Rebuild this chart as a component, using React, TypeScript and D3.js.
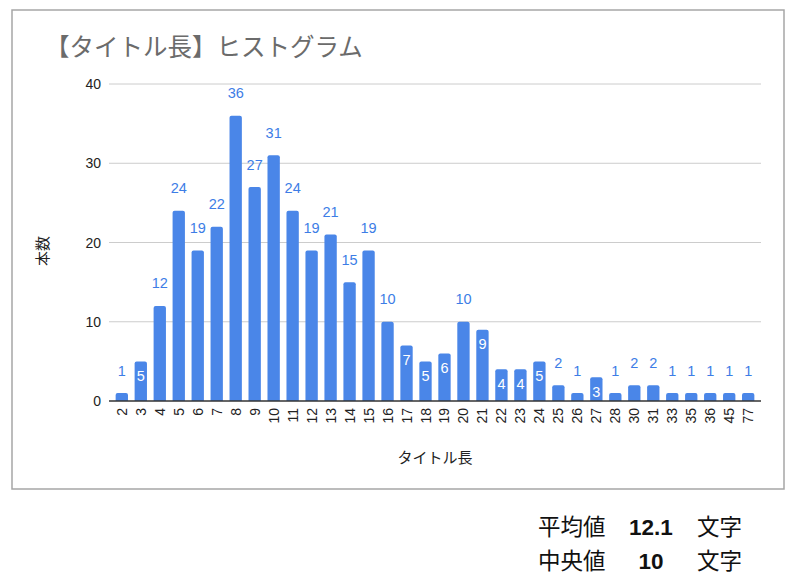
import React from "react";
import * as d3 from "d3";

const LENGTHS = ["2", "3", "4", "5", "6", "7", "8", "9", "10", "11", "12", "13", "14", "15", "16", "17", "18", "19", "20", "21", "22", "23", "24", "25", "26", "27", "28", "30", "31", "33", "35", "36", "45", "77"];
const COUNTS = [1, 5, 12, 24, 19, 22, 36, 27, 31, 24, 19, 21, 15, 19, 10, 7, 5, 6, 10, 9, 4, 4, 5, 2, 1, 3, 1, 2, 2, 1, 1, 1, 1, 1];
const Y_TICKS = [0, 10, 20, 30, 40];
const STATS = [
  { label: "平均値", value: "12.1", unit: "文字" },
  { label: "中央値", value: "10", unit: "文字" },
];

const W = 800;
const H = 588;
const BLUE = "#4a86e8";
const LABEL_BLUE = "#3d7de6";
const SANS = "Arial, 'Liberation Sans', Helvetica, sans-serif";
const JP = "'Noto Sans CJK JP', 'Noto Sans', sans-serif";

export default function App() {
  const x = d3.scaleBand<string>().domain(LENGTHS).range([109, 761]).padding(0.35);
  const y = d3.scaleLinear().domain([0, 40]).range([401, 84]);
  const bw = x.bandwidth();

  const rows = LENGTHS.map((k, i) => ({ k, v: COUNTS[i] }));

  // bar with rounded top corners only
  const barPath = (x0: number, top: number, w: number, bottom: number) => {
    const r = Math.min(2, (bottom - top) / 2);
    const p = d3.path();
    p.moveTo(x0, bottom);
    p.lineTo(x0, top + r);
    p.quadraticCurveTo(x0, top, x0 + r, top);
    p.lineTo(x0 + w - r, top);
    p.quadraticCurveTo(x0 + w, top, x0 + w, top + r);
    p.lineTo(x0 + w, bottom);
    p.closePath();
    return p.toString();
  };

  return (
    <svg width={W} height={H} style={{ position: "absolute", left: 0, top: 0, background: "#fff" }}>
      <rect x={12} y={10} width={772} height={479} fill="#fff" stroke="#a6a6a6" strokeWidth={1.5} />

      <text x={45} y={56} fontFamily={JP} fontSize={24.5} fill="#6b6b6b">【タイトル長】ヒストグラム</text>

      {/* grid + y ticks */}
      {Y_TICKS.map((t) => (
        <g key={t}>
          {t > 0 && <line x1={109} x2={761} y1={y(t)} y2={y(t)} stroke="#cccccc" strokeWidth={1} />}
          <text x={101} y={y(t) + 5} textAnchor="end" fontFamily={SANS} fontSize={14} fill="#222">{t}</text>
        </g>
      ))}

      {/* bars */}
      {rows.map((d) => {
        const x0 = x(d.k)!;
        const top = y(d.v);
        const cx = x0 + bw / 2;
        const inside = String(d.v).length === 1 && d.v >= 3;
        return (
          <g key={d.k}>
            <path d={barPath(x0, top, bw, y(0))} fill={BLUE} />
            <text
              x={cx}
              y={inside ? top + 19.5 : top - 17.5}
              textAnchor="middle"
              fontFamily={SANS}
              fontSize={14.5}
              fill={inside ? "#ffffff" : LABEL_BLUE}
            >
              {d.v}
            </text>
          </g>
        );
      })}

      <line x1={109} x2={761} y1={y(0)} y2={y(0)} stroke="#333" strokeWidth={1.5} />

      {/* x tick labels */}
      {LENGTHS.map((k) => (
        <text
          key={k}
          transform={`translate(${x(k)! + bw / 2 + 5},${408}) rotate(-90)`}
          textAnchor="end"
          fontFamily={SANS}
          fontSize={14}
          fill="#222"
        >
          {k}
        </text>
      ))}

      <text x={435} y={463} textAnchor="middle" fontFamily={JP} fontSize={15} fill="#222">タイトル長</text>
      <text transform={`translate(48,251) rotate(-90)`} textAnchor="middle" fontFamily={JP} fontSize={15} fill="#222">本数</text>

      {/* summary stats */}
      {STATS.map((s, i) => {
        const by = 535 + i * 33.5;
        return (
          <g key={s.label} fontSize={22.5} fill="#111">
            <text x={538} y={by} fontFamily={JP}>{s.label}</text>
            <text x={651} y={by} textAnchor="middle" fontFamily={SANS} fontWeight="bold">{s.value}</text>
            <text x={697} y={by} fontFamily={JP}>{s.unit}</text>
          </g>
        );
      })}
    </svg>
  );
}
